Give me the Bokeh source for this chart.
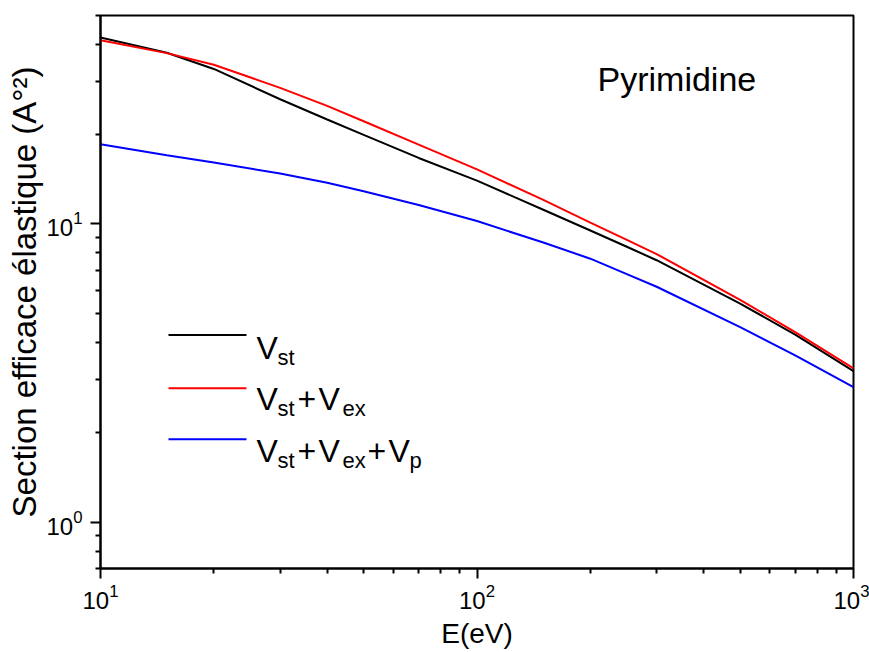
from bokeh.plotting import figure
from bokeh.models import Label, Arrow, FixedTicker, LogTickFormatter
from bokeh.embed import file_html
from bokeh.resources import INLINE

# ---- data ----
energy = [10, 15, 20, 30, 40, 50, 70, 100, 150, 200, 250, 300, 500, 700, 1000]
v_st = [42.2, 37.5, 33.1, 26.2, 22.4, 19.9, 16.65, 13.98, 11.16, 9.51, 8.39, 7.56, 5.41, 4.26, 3.21]
v_st_ex = [41.3, 37.4, 34.2, 28.6, 24.9, 22.1, 18.45, 15.24, 12.05, 10.1, 8.85, 7.93, 5.57, 4.34, 3.28]
v_st_ex_p = [18.5, 17.0, 16.07, 14.77, 13.74, 12.87, 11.58, 10.23, 8.67, 7.65, 6.79, 6.16, 4.51, 3.63, 2.84]
series_colors = ["#000000", "#FF0000", "#0000FF"]
x_major = [10, 100, 1000]
x_minor = [20, 30, 40, 50, 60, 70, 80, 90, 200, 300, 400, 500, 600, 700, 800, 900]
y_major = [1, 10]
y_minor = [0.7, 0.8, 0.9, 2, 3, 4, 5, 6, 7, 8, 9, 20, 30, 40, 50]
legend_rows = [
    [("V", False), ("st", True)],
    [("V", False), ("st", True), ("+", False), ("V", False), ("ex", True)],
    [("V", False), ("st", True), ("+", False), ("V", False), ("ex", True), ("+", False), ("V", False), ("p", True)],
]
title_text = "Pyrimidine"
x_label = "E(eV)"
y_label = "Section efficace élastique (A°²)"

FONT = "Liberation Sans"

p = figure(x_axis_type="log", y_axis_type="log",
           x_range=(10, 1000), y_range=(0.7, 50),
           frame_width=753, frame_height=553,
           min_border_left=100, min_border_right=16,
           min_border_top=15, min_border_bottom=84,
           output_backend="svg", toolbar_location=None)

p.xgrid.visible = False
p.ygrid.visible = False
p.outline_line_color = "black"
p.outline_line_width = 2
p.background_fill_color = "white"
p.border_fill_color = "white"

p.xaxis[0].ticker = FixedTicker(ticks=x_major, minor_ticks=x_minor)
p.yaxis[0].ticker = FixedTicker(ticks=y_major, minor_ticks=y_minor)

for ax in (p.xaxis[0], p.yaxis[0]):
    ax.formatter = LogTickFormatter()
    ax.axis_line_width = 2
    ax.axis_line_color = "black"
    ax.major_tick_line_width = 2
    ax.minor_tick_line_width = 2
    ax.major_tick_out = 10
    ax.major_tick_in = 0
    ax.minor_tick_out = 5
    ax.minor_tick_in = 0
    ax.major_label_text_font = FONT
    ax.major_label_text_font_size = "24px"
    ax.major_label_text_color = "black"
    ax.axis_label_text_font = FONT
    ax.axis_label_text_font_style = "normal"
    ax.axis_label_text_color = "black"

p.xaxis.axis_label = x_label
p.xaxis.axis_label_text_font_size = "28px"
p.xaxis.major_label_standoff = 5
p.xaxis.axis_label_standoff = 6
p.yaxis.axis_label = y_label
p.yaxis.axis_label_text_font_size = "33px"
p.yaxis.major_label_standoff = 8
p.yaxis.axis_label_standoff = 0

series = [v_st, v_st_ex, v_st_ex_p]
for ys, c in zip(series, series_colors):
    p.line(energy, ys, line_color=c, line_width=2)

# helpers mapping reference pixel positions to data coordinates (for annotations only)
def px2x(px):
    return 10 * 10 ** ((px - 100) / 376.5)

def py2y(py):
    return 10 ** (1 + (223 - py) / 298)

# legend sample lines and labels
row_line_y = [334, 387, 438]
row_base_y = [347, 398, 450]
piece_x = [256, 277, 297, 318, 342, 367, 388, 409]
for i, c in enumerate(series_colors):
    p.add_layout(Arrow(start=None, end=None,
                       x_start=px2x(168), x_end=px2x(246),
                       y_start=py2y(row_line_y[i]), y_end=py2y(row_line_y[i]),
                       line_color=c, line_width=2))
    for j, (txt, sub) in enumerate(legend_rows[i]):
        base = row_base_y[i] + (9 if sub else 0)
        p.add_layout(Label(x=px2x(piece_x[j]), y=py2y(base), text=txt,
                           text_font=FONT, text_font_size="22px" if sub else "32px",
                           text_baseline="alphabetic", text_align="left",
                           text_color="black"))

p.add_layout(Label(x=px2x(597), y=py2y(78), text=title_text, text_font=FONT,
                   text_font_size="34px", text_baseline="alphabetic",
                   text_align="left", text_color="black"))

open("out.html", "w").write(file_html(p, INLINE))
